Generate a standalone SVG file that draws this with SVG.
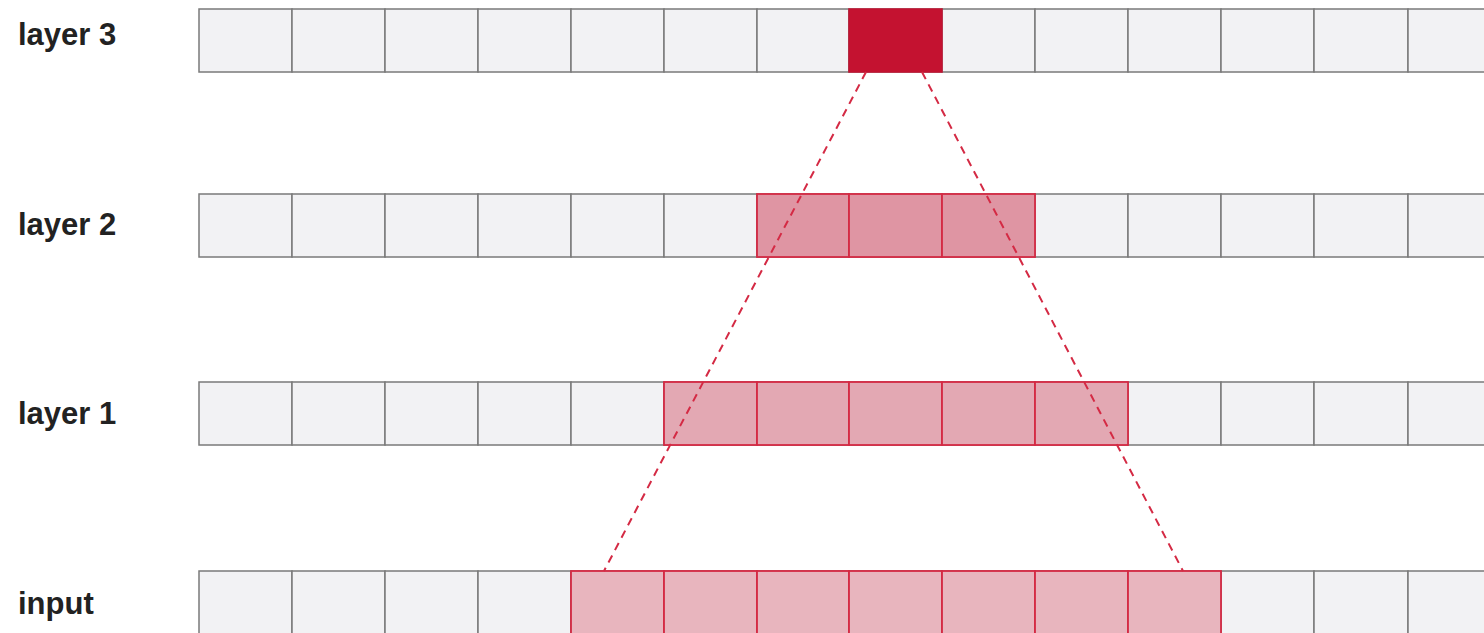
<svg xmlns="http://www.w3.org/2000/svg" width="1484" height="633" viewBox="0 0 1484 633">
<style>
.lbl{font-family:"Liberation Sans",Arial,sans-serif;font-weight:bold;font-size:31px;fill:#222}
.g{fill:#f2f2f4;stroke:#7a7a7a;stroke-width:1.5}
.r3{fill:#c41230;stroke:#c41230;stroke-width:1.5}
.r2{fill:#df95a3;stroke:#d42a44;stroke-width:1.8}
.r1{fill:#e3a8b3;stroke:#d42a44;stroke-width:1.8}
.r0{fill:#e8b5be;stroke:#d42a44;stroke-width:1.8}
.dash{stroke:#d42a44;stroke-width:2;stroke-dasharray:8 6;fill:none}
</style>
<rect width="1484" height="633" fill="#ffffff"/>
<defs>
<g id="row">
<rect class="g" x="199" y="0" width="93" height="63"/>
<rect class="g" x="292" y="0" width="93" height="63"/>
<rect class="g" x="385" y="0" width="93" height="63"/>
<rect class="g" x="478" y="0" width="93" height="63"/>
<rect class="g" x="571" y="0" width="93" height="63"/>
<rect class="g" x="664" y="0" width="93" height="63"/>
<rect class="g" x="757" y="0" width="92" height="63"/>
<rect class="g" x="849" y="0" width="93" height="63"/>
<rect class="g" x="942" y="0" width="93" height="63"/>
<rect class="g" x="1035" y="0" width="93" height="63"/>
<rect class="g" x="1128" y="0" width="93" height="63"/>
<rect class="g" x="1221" y="0" width="93" height="63"/>
<rect class="g" x="1314" y="0" width="94" height="63"/>
<rect class="g" x="1408" y="0" width="93" height="63"/>
</g>
</defs>
<g id="layer3">
<text class="lbl" x="18" y="45">layer 3</text>
<use href="#row" y="9"/>
<rect class="r3" x="849" y="9" width="93" height="63"/>
</g>
<g id="layer2">
<text class="lbl" x="18" y="235">layer 2</text>
<use href="#row" y="194"/>
<rect class="r2" x="757" y="194" width="92" height="63"/>
<rect class="r2" x="849" y="194" width="93" height="63"/>
<rect class="r2" x="942" y="194" width="93" height="63"/>
</g>
<g id="layer1">
<text class="lbl" x="18" y="424">layer 1</text>
<use href="#row" y="382"/>
<rect class="r1" x="664" y="382" width="93" height="63"/>
<rect class="r1" x="757" y="382" width="92" height="63"/>
<rect class="r1" x="849" y="382" width="93" height="63"/>
<rect class="r1" x="942" y="382" width="93" height="63"/>
<rect class="r1" x="1035" y="382" width="93" height="63"/>
</g>
<g id="input">
<text class="lbl" x="18" y="614">input</text>
<use href="#row" y="571"/>
<rect class="r0" x="571" y="571" width="93" height="63"/>
<rect class="r0" x="664" y="571" width="93" height="63"/>
<rect class="r0" x="757" y="571" width="92" height="63"/>
<rect class="r0" x="849" y="571" width="93" height="63"/>
<rect class="r0" x="942" y="571" width="93" height="63"/>
<rect class="r0" x="1035" y="571" width="93" height="63"/>
<rect class="r0" x="1128" y="571" width="93" height="63"/>
</g>
<g id="connectors">
<line class="dash" x1="866" y1="72" x2="604" y2="571"/>
<line class="dash" x1="922" y1="72" x2="1183" y2="571"/>
</g>
</svg>
